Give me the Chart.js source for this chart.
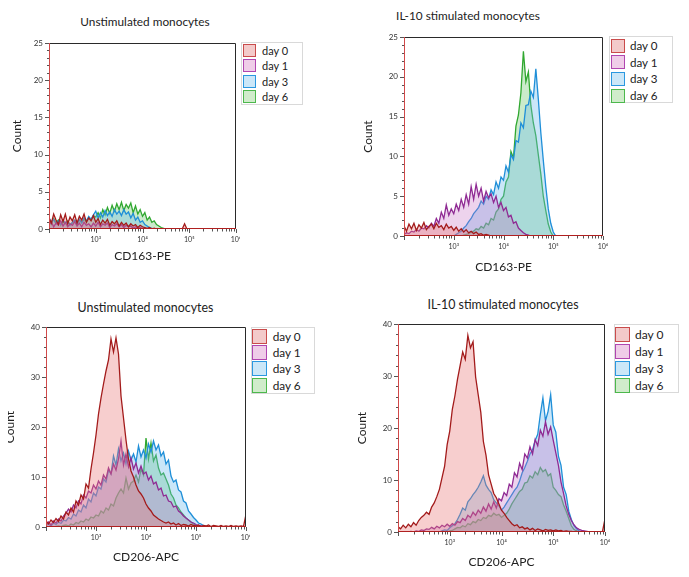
<!DOCTYPE html>
<html><head><meta charset="utf-8">
<script src="https://cdn.jsdelivr.net/npm/chart.js@4.4.1/dist/chart.umd.min.js"></script>
<style>
html,body{margin:0;padding:0;background:#fff;width:689px;height:577px;overflow:hidden;position:relative;font-family:Lato,"Open Sans",sans-serif;color:#222}
canvas{position:absolute}
.clip{position:absolute;overflow:hidden}
.title{position:absolute;transform:translate(-50%,-50%);white-space:nowrap;color:#222}
.legend{position:absolute;border:1px solid #d9d9d9;background:#fff;box-sizing:border-box}
.row{position:absolute;display:flex;align-items:center;white-space:nowrap;color:#222}
.sw{box-sizing:border-box;border:1.5px solid;flex:none}
</style></head><body>
<script>
// ---------------- DATA ----------------
const seriesNames = ['day 0', 'day 1', 'day 3', 'day 6'];
const panelTitles = ['Unstimulated monocytes', 'IL-10 stimulated monocytes', 'Unstimulated monocytes', 'IL-10 stimulated monocytes'];
const markerLabels = ['CD163-PE', 'CD163-PE', 'CD206-APC', 'CD206-APC'];
const yAxisTitle = 'Count';
const xTickValues = [1e3, 1e4, 1e5, 1e6];
const xTickLabels = ['10³', '10⁴', '10⁵', '10⁶'];
const yMaxes = [25, 25, 40, 40];
const yMajorSteps = [5, 5, 10, 10];
const yMinorSteps = [1, 1, 2, 2];
// histogram bins: log10(intensity) from 2.00 to 6.00 in steps of 0.05
const binStartExp = 2.0;
const binStepExp = 0.05;

// CD163-PE, unstimulated
const cd163_unstim_day0 = [1.5,0.8,2.0,1.2,0.6,1.9,1.0,2.0,0.7,1.6, 1.1,1.9,0.8,1.7,1.2,2.0,0.9,1.5,1.1,1.8, 0.9,1.4,0.6,1.2,0.8,1.3,0.5,1.0,0.7,1.1, 0.4,0.9,0.5,0.8,0.3,0.7,0.4,0.6,0.2,0.5, 0.3,0.2,0.1,0.2,0,0.1,0,0,0,0, 0,0,0,0,0,0,0,0,0.7,0, 0,0,0,0,0,0,0,0,0,0, 0,0,0,0,0,0,0,0,0,0, 0];
const cd163_unstim_day1 = [0.6,1.0,0.3,0.8,0.5,1.1,0.4,0.9,0.3,0.7, 0.5,1.0,0.4,0.8,0.3,0.9,0.5,0.7,0.3,0.8, 0.4,0.9,0.3,0.7,0.5,0.8,0.2,0.6,0.4,0.7, 0.3,0.6,0.2,0.5,0.3,0.4,0.1,0.3,0.1,0.2, 0.1,0,0,0,0,0,0,0,0,0, 0,0,0,0,0,0,0,0,0,0, 0,0,0,0,0,0,0,0,0,0, 0,0,0,0,0,0,0,0,0,0, 0];
const cd163_unstim_day3 = [1.5,0.9,1.3,0.7,1.1,0.6,1.2,0.8,1.0,0.5, 0.9,1.2,0.7,1.3,0.8,1.5,1.1,1.7,1.3,1.9, 2.4,1.5,2.2,1.6,2.5,1.8,2.3,1.7,2.6,2.0, 2.4,1.8,2.6,2.0,2.3,1.5,2.1,1.2,1.6,0.9, 1.1,0.6,0.4,0.2,0.1,0,0,0,0,0, 0,0,0,0,0,0,0,0,0,0, 0,0,0,0,0,0,0,0,0,0, 0,0,0,0,0,0,0,0,0,0, 0];
const cd163_unstim_day6 = [1.0,0.6,1.4,0.8,1.2,0.5,1.0,0.7,1.1,0.6, 0.8,1.1,0.7,1.2,0.9,1.3,1.0,1.5,1.2,1.8, 1.6,2.2,1.5,2.6,1.9,2.9,2.1,3.2,2.4,3.4, 2.6,3.6,2.5,3.3,2.8,3.5,2.2,3.1,2.0,2.6, 1.7,2.2,1.2,1.6,0.9,1.1,0.6,0.4,0.2,0.1, 0,0,0,0,0,0,0,0,0,0, 0,0,0,0,0,0,0,0,0,0, 0,0,0,0,0,0,0,0,0,0, 0];

// CD163-PE, IL-10 stimulated
const cd163_il10_day0 = [1.3,0.6,1.5,0.9,1.6,0.7,1.4,1.0,1.7,0.8, 1.2,1.5,0.9,1.6,1.1,1.3,0.8,1.5,1.0,1.2, 0.7,1.1,0.6,0.9,0.5,0.8,0.4,0.6,0.3,0.5, 0.2,0.3,0.1,0.2,0.1,0,0,0,0,0, 0,0,0,0,0,0,0,0,0,0, 0,0,0,0,0,0,0,0,0,0, 0,0,0,0,0,0,0,0,0,0, 0,0,0,0,0,0,0,0,0,0, 0];
const cd163_il10_day1 = [0.2,0.4,0.3,0.6,0.5,0.8,0.6,1.0,0.9,1.3, 1.0,1.6,1.2,2.2,1.6,3.0,2.2,3.9,2.6,3.4, 2.8,4.0,3.2,4.6,3.6,5.2,4.0,6.2,4.6,6.5, 5.0,6.0,4.4,5.6,4.8,5.3,4.2,5.0,3.6,4.2, 3.2,3.6,2.4,2.6,1.6,1.8,1.0,0.7,0.4,0.2, 0.1,0,0,0,0,0,0,0,0,0, 0,0,0,0,0,0,0,0,0,0, 0,0,0,0,0,0,0,0,0,0, 0];
const cd163_il10_day3 = [0,0,0,0,0,0,0,0,0,0, 0,0,0,0,0,0,0,0,0,0, 0,0.2,0.4,0.6,1.0,1.3,1.8,2.2,2.8,3.2, 3.6,4.4,4.0,5.0,4.6,5.8,5.2,6.8,6.0,7.4, 7.0,8.8,8.0,10.2,9.6,12.0,11.8,14.2,13.6,16.4, 16.5,18.2,17.4,21.0,17.2,13.0,9.5,6.2,3.4,1.6, 0.5,0,0,0,0,0,0,0,0,0, 0,0,0,0,0,0,0,0,0,0, 0];
const cd163_il10_day6 = [0,0,0,0,0,0,0,0,0,0, 0,0,0,0,0,0,0,0,0,0, 0,0,0,0,0.1,0.2,0.3,0.5,0.6,0.9, 0.8,1.2,1.0,1.6,1.4,2.2,2.0,3.0,3.4,4.6, 5.0,6.8,7.4,10.6,9.8,13.8,15.2,18.0,23.2,19.4, 20.6,16.4,14.2,12.6,10.2,7.8,5.0,3.2,1.5,0.5, 0,0,0,0,0,0,0,0,0,0, 0,0,0,0,0,0,0,0,0,0, 0];

// CD206-APC, unstimulated
const cd206_unstim_day0 = [1.2,0.6,1.4,0.9,1.7,1.1,2.2,1.6,3.0,2.4, 3.8,3.0,5.2,4.4,6.4,5.6,8.6,7.8,11.6,14.8, 18.4,22.6,25.8,28.6,31.2,33.4,37.6,35.0,37.8,34.6, 26.2,21.8,17.4,13.6,11.2,10.0,8.4,7.2,6.6,5.8, 4.6,3.8,3.2,2.4,2.0,1.6,1.3,1.0,0.8,1.0, 0.6,0.8,0.4,0.7,0.3,0.5,0.4,0.2,0.5,0.3, 0.2,0.4,0.1,0.3,0.2,0.4,0.1,0.3,0.2,0.1, 0.3,0.1,0.2,0.1,0.3,0.1,0.2,0.1,0.2,0.1, 2.5];
const cd206_unstim_day1 = [0.6,1.0,0.4,1.2,0.8,1.6,1.2,2.2,2.8,3.6, 3.0,4.4,3.8,5.2,4.6,6.4,5.8,7.2,6.8,8.4, 7.6,9.2,8.4,10.4,9.6,11.8,10.6,12.6,11.4,13.6, 17.2,12.4,14.6,12.0,13.8,11.6,12.8,10.8,12.2,10.6, 11.0,9.4,10.2,8.6,9.0,7.4,7.8,6.2,6.4,5.2, 5.0,4.0,4.2,3.2,2.8,2.2,1.8,1.4,1.0,0.8, 0.5,0.3,0.2,0.1,0,0,0,0,0,0, 0,0,0,0,0,0,0,0,0,0, 0];
const cd206_unstim_day3 = [0.3,0.6,0.2,0.8,0.5,1.0,0.7,1.4,1.2,1.9, 1.6,2.6,2.2,3.4,3.0,4.4,3.8,5.6,5.0,6.8, 6.2,8.0,7.6,9.6,9.0,11.4,10.6,14.2,12.4,15.6, 13.2,14.8,12.6,15.2,13.4,14.6,13.0,16.2,14.0,15.4, 13.8,16.6,15.0,17.2,15.4,16.4,14.2,15.0,12.6,13.4, 10.2,9.0,9.4,7.4,7.0,5.2,4.8,3.2,2.6,1.9, 1.4,0.8,0.6,0.3,0.1,0,0,0,0,0, 0,0,0,0,0,0,0,0,0,0, 0];
const cd206_unstim_day6 = [0,0,0,0,0.1,0.2,0.1,0.3,0.4,0.2, 0.6,0.4,0.9,0.7,1.2,1.0,1.6,1.3,2.0,1.8, 2.4,2.2,3.2,2.8,3.8,3.4,4.6,4.2,5.8,6.8, 7.6,6.8,9.8,7.6,8.8,9.2,10.4,9.0,11.6,10.4, 17.8,13.6,16.8,13.2,14.4,11.8,10.4,10.8,9.6,8.4, 6.6,5.8,4.4,3.8,3.0,2.4,1.8,1.4,1.0,0.6, 0.3,0.1,0,0,0,0,0,0,0,0, 0,0,0,0,0,0,0,0,0,0, 0];

// CD206-APC, IL-10 stimulated
const cd206_il10_day0 = [1.0,0.6,1.3,0.8,1.5,1.0,1.8,1.3,2.2,2.8, 3.2,3.8,3.4,4.8,5.6,6.8,8.2,10.4,12.6,16.8, 19.4,23.6,26.2,29.4,32.0,34.6,33.2,37.8,35.4,36.6, 29.8,26.4,23.0,17.4,14.8,11.0,9.2,7.4,6.6,5.4, 4.2,3.6,2.8,2.2,1.6,1.2,1.4,0.8,1.0,0.6, 0.8,0.4,0.7,0.3,0.6,0.4,0.2,0.5,0.3,0.4, 0.2,0.4,0.2,0.3,0.1,0.2,0.1,0.1,0,0.1, 0,0,0,0,0,0,0,0,0,0, 2.5];
const cd206_il10_day1 = [0,0,0,0,0,0.1,0,0.2,0.1,0.4, 0.3,0.6,0.5,0.9,0.6,1.1,0.8,1.3,1.0,1.5, 1.1,1.6,1.3,2.0,1.8,2.6,2.2,3.2,2.8,3.8, 3.2,4.2,3.6,4.8,4.0,5.4,4.4,5.8,4.6,6.4, 6.0,7.6,7.0,9.2,8.6,11.4,10.6,13.2,12.0,15.0, 14.2,16.4,15.0,17.8,16.6,19.6,18.4,21.2,18.8,20.2, 17.6,15.2,12.8,9.6,7.4,5.0,3.4,2.2,1.4,0.8, 0.5,0.3,0.2,0.1,0,0,0,0,0,0, 0];
const cd206_il10_day3 = [0,0,0,0,0,0,0,0,0,0, 0,0,0,0,0,0,0,0.2,0.4,0.3, 0.8,1.2,1.6,2.4,3.4,4.6,4.2,5.8,6.4,7.2, 7.8,8.6,9.6,10.8,9.0,8.2,7.6,6.2,5.6,5.0, 4.2,4.8,5.6,6.4,7.2,8.0,8.6,9.8,11.4,12.4, 13.6,15.0,15.8,17.6,18.8,22.6,25.8,21.4,23.2,26.4, 20.6,19.2,14.6,12.8,8.6,7.2,4.0,2.4,1.2,0.6, 0.2,0,0,0,0,0,0,0,0,0, 0];
const cd206_il10_day6 = [0,0,0,0,0,0,0,0,0,0, 0,0,0,0,0,0,0,0,0,0, 0.2,0.3,0.6,0.9,0.8,1.2,1.0,1.6,1.4,2.0, 1.8,2.4,2.2,2.8,2.6,3.2,3.0,3.6,3.2,3.4, 2.8,3.2,3.6,4.4,5.4,6.2,7.0,7.8,8.2,9.4, 9.6,10.8,10.4,11.6,11.0,12.4,11.6,12.0,10.8,11.2, 8.6,8.0,7.2,6.8,5.2,4.0,2.6,1.2,0.5,0.2, 0,0,0,0,0,0,0,0,0,0, 0];

const panelSeries = [
  [cd163_unstim_day0, cd163_unstim_day1, cd163_unstim_day3, cd163_unstim_day6],
  [cd163_il10_day0, cd163_il10_day1, cd163_il10_day3, cd163_il10_day6],
  [cd206_unstim_day0, cd206_unstim_day1, cd206_unstim_day3, cd206_unstim_day6],
  [cd206_il10_day0, cd206_il10_day1, cd206_il10_day3, cd206_il10_day6]
];

// ---------------- STYLE / LAYOUT ----------------
const lineColors = ['#a31b1b', '#8f2a93', '#1f8fd8', '#30a830'];
const fillColors = ['rgba(232,118,118,0.36)', 'rgba(196,108,196,0.30)', 'rgba(108,186,236,0.36)', 'rgba(110,200,110,0.36)'];
const swatchFill = ['#f3caca', '#efcde8', '#cbe7f8', '#d0eccb'];
const swatchLine = ['#c94b4b', '#b046b0', '#2a98e0', '#4cb84c'];

const geom = [
  {cx:0,   cy:30,  cw:240, ch:240, L:49,  T:43,  R:236, B:229, yPad:9.5, xPad:6.3},
  {cx:350, cy:26,  cw:258, ch:250, L:404, T:37,  R:603, B:236, yPad:10.8, xPad:1.8},
  {cx:1,   cy:315, cw:249, ch:255, L:46,  T:327, R:246, B:527, yPad:2.3, xPad:5.8, clipLeft:8},
  {cx:350, cy:312, cw:260, ch:260, L:398, T:324, R:605, B:532, yPad:4.8, xPad:2.3}
];
const titleGeom = [
  {x:145, y:21, size:11.8}, {x:468, y:14.5, size:11.8}, {x:145.5, y:307, size:12.4}, {x:503, y:304, size:12.4}
];
const legendGeom = [
  {left:241, top:42,  w:62, h:63, sw:13, swLeft:2, first:8.5, pitch:15.3, textLeft:21, size:11},
  {left:609, top:36,  w:64, h:67, sw:14, swLeft:2, first:9.5, pitch:16.7, textLeft:21, size:11.6},
  {left:251, top:327, w:64, h:67, sw:15, swLeft:1, first:9,   pitch:16.4, textLeft:21.7, size:11.8},
  {left:614, top:324, w:65, h:69, sw:15, swLeft:1, first:10,  pitch:17,   textLeft:21, size:12}
];

Chart.defaults.font.family = 'Lato, "Open Sans", sans-serif';

const frameTicks = {
  id: 'frameTicks',
  afterDatasetsDraw(chart, args, opts) {
    const {ctx, chartArea: {left, right, top, bottom}, scales: {x, y}} = chart;
    ctx.save();
    ctx.lineWidth = 1;
    ctx.strokeStyle = '#555';
    ctx.beginPath();
    const nY = Math.round(opts.yMax / opts.yMinor);
    for (let i = 0; i <= nY; i++) {
      const v = i * opts.yMinor;
      const py = Math.round(y.getPixelForValue(v)) + 0.5;
      const major = Math.abs(v / opts.yMajor - Math.round(v / opts.yMajor)) < 1e-6;
      const len = major ? 4 : 2;
      ctx.moveTo(left - len, py); ctx.lineTo(left, py);
    }
    for (let n = 2; n <= 6; n++) {
      for (let k = 1; k <= 9; k++) {
        const v = k * Math.pow(10, n);
        if (v < x.min * 0.999 || v > x.max * 1.001) continue;
        const px = Math.round(x.getPixelForValue(v)) + 0.5;
        const len = k === 1 ? 4 : 2.5;
        ctx.moveTo(px, bottom); ctx.lineTo(px, bottom + len);
      }
    }
    ctx.stroke();
    ctx.strokeStyle = '#2a2a2a';
    ctx.beginPath();
    ctx.moveTo(left, top + 0.5); ctx.lineTo(right - 0.5, top + 0.5); ctx.lineTo(right - 0.5, bottom);
    ctx.stroke();
    ctx.strokeStyle = '#d04848';
    ctx.beginPath(); ctx.moveTo(left + 0.5, top); ctx.lineTo(left + 0.5, bottom); ctx.stroke();
    ctx.strokeStyle = '#b02020';
    ctx.beginPath(); ctx.moveTo(left, bottom - 0.5); ctx.lineTo(right, bottom - 0.5); ctx.stroke();
    ctx.restore();
  }
};

function makePanel(p) {
  const g = geom[p];
  const canvas = document.createElement('canvas');
  canvas.width = g.cw; canvas.height = g.ch;
  canvas.style.width = g.cw + 'px'; canvas.style.height = g.ch + 'px';
  if (g.clipLeft !== undefined) {
    const wrap = document.createElement('div');
    wrap.className = 'clip';
    wrap.style.left = g.clipLeft + 'px'; wrap.style.top = g.cy + 'px';
    wrap.style.width = (g.cx + g.cw - g.clipLeft) + 'px'; wrap.style.height = g.ch + 'px';
    canvas.style.left = (g.cx - g.clipLeft) + 'px'; canvas.style.top = '0px';
    wrap.appendChild(canvas);
    document.body.appendChild(wrap);
  } else {
    canvas.style.left = g.cx + 'px'; canvas.style.top = g.cy + 'px';
    document.body.appendChild(canvas);
  }
  const datasets = panelSeries[p].map((arr, s) => ({
    label: seriesNames[s],
    data: arr.map((v, i) => ({x: Math.pow(10, binStartExp + i * binStepExp), y: v})),
    borderColor: lineColors[s],
    backgroundColor: fillColors[s],
    fill: 'origin',
    borderWidth: 1.3,
    pointRadius: 0,
    tension: 0
  }));
  new Chart(canvas, {
    type: 'line',
    data: {datasets},
    options: {
      responsive: false, animation: false, devicePixelRatio: 1,
      layout: {padding: {left: 0, top: g.T - g.cy, right: (g.cx + g.cw) - g.R, bottom: 0}},
      plugins: {legend: {display: false}, tooltip: {enabled: false},
        frameTicks: {yMax: yMaxes[p], yMajor: yMajorSteps[p], yMinor: yMinorSteps[p]}},
      scales: {
        x: {
          type: 'logarithmic', min: 100, max: 1e6,
          grid: {display: false, drawTicks: true, tickLength: 4},
          border: {display: false},
          afterBuildTicks: (s) => { s.ticks = xTickValues.map(v => ({value: v})); },
          ticks: {autoSkip: false, maxRotation: 0, minRotation: 0, padding: 3, color: '#333', font: {size: 7}},
          title: {display: true, text: markerLabels[p], color: '#222', font: {size: 12}, padding: {top: 0, bottom: g.xPad}},
          afterFit: (s) => { s.height = (g.cy + g.ch) - g.B; s.paddingLeft = 0; s.paddingRight = 0; }
        },
        y: {
          min: 0, max: yMaxes[p],
          ticks: {stepSize: yMajorSteps[p], padding: 2, color: '#333', font: {size: 8}},
          grid: {display: false, drawTicks: true, tickLength: 4},
          border: {display: false},
          title: {display: true, text: yAxisTitle, color: '#222', font: {size: 12}, padding: {top: g.yPad, bottom: 0}},
          afterFit: (s) => { s.width = g.L - g.cx; s.paddingTop = 0; s.paddingBottom = 0; }
        }
      }
    },
    plugins: [frameTicks]
  });
  // x tick labels come from the named list
  const ch = Chart.getChart(canvas);
  ch.options.scales.x.ticks.callback = (v) => { const k = xTickValues.indexOf(v); return k < 0 ? '' : xTickLabels[k]; };
  ch.update('none');

  const t = titleGeom[p];
  const td = document.createElement('div');
  td.className = 'title';
  td.style.left = t.x + 'px'; td.style.top = t.y + 'px'; td.style.fontSize = t.size + 'px';
  td.textContent = panelTitles[p];
  document.body.appendChild(td);

  const lg = legendGeom[p];
  const box = document.createElement('div');
  box.className = 'legend';
  box.style.left = lg.left + 'px'; box.style.top = lg.top + 'px';
  box.style.width = lg.w + 'px'; box.style.height = lg.h + 'px';
  seriesNames.forEach((name, s) => {
    const row = document.createElement('div');
    row.className = 'row';
    const cy = lg.first + s * lg.pitch;
    row.style.left = (lg.swLeft - 1) + 'px';
    row.style.top = (cy - lg.sw / 2 - 1) + 'px';
    row.style.height = lg.sw + 'px';
    row.style.fontSize = lg.size + 'px';
    const sw = document.createElement('div');
    sw.className = 'sw';
    sw.style.width = lg.sw + 'px'; sw.style.height = lg.sw + 'px';
    sw.style.background = swatchFill[s]; sw.style.borderColor = swatchLine[s];
    sw.style.marginRight = (lg.textLeft - lg.swLeft - lg.sw) + 'px';
    const tx = document.createElement('span');
    tx.textContent = name;
    row.appendChild(sw); row.appendChild(tx);
    box.appendChild(row);
  });
  document.body.appendChild(box);
}

for (let p = 0; p < 4; p++) makePanel(p);
</script>
</body></html>
